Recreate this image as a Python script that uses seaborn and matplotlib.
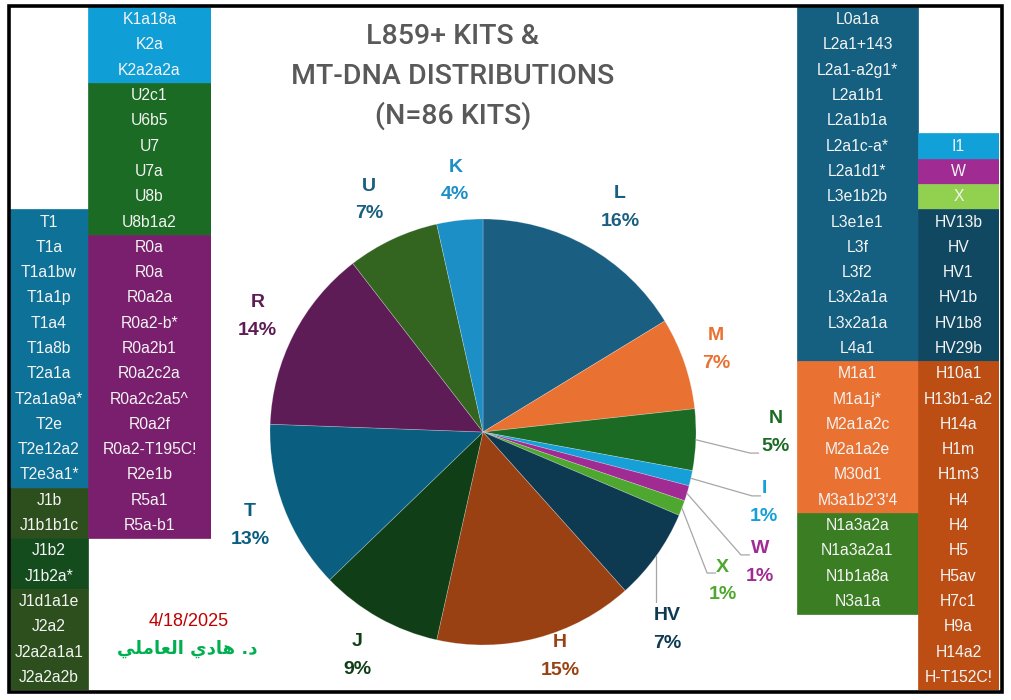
import numpy as np
import matplotlib.pyplot as plt
import seaborn as sns
from matplotlib.patches import Rectangle

sns.set_theme(style="white")
plt.rcParams['font.family'] = ['Liberation Sans', 'DejaVu Sans']

# pie data: kits per mt-DNA haplogroup, clockwise from 12 o'clock
groups = ["L", "M", "N", "I", "W", "X", "HV", "H", "J", "T", "R", "U", "K"]
counts = [14, 6, 4, 1, 1, 1, 6, 13, 8, 11, 12, 6, 3]
pct_shown = [16, 7, 5, 1, 1, 1, 7, 15, 9, 13, 14, 7, 4]

# kit tables
k_kits = ["K1a18a", "K2a", "K2a2a2a"]
u_kits = ["U2c1", "U6b5", "U7", "U7a", "U8b", "U8b1a2"]
r_kits = ["R0a", "R0a", "R0a2a", "R0a2-b*", "R0a2b1", "R0a2c2a", "R0a2c2a5^",
          "R0a2f", "R0a2-T195C!", "R2e1b", "R5a1", "R5a-b1"]
t_kits = ["T1", "T1a", "T1a1bw", "T1a1p", "T1a4", "T1a8b", "T2a1a", "T2a1a9a*",
          "T2e", "T2e12a2", "T2e3a1*"]
j_kits = ["J1b", "J1b1b1c", "J1b2", "J1b2a*", "J1d1a1e", "J2a2", "J2a2a1a1", "J2a2a2b"]
l_kits = ["L0a1a", "L2a1+143", "L2a1-a2g1*", "L2a1b1", "L2a1b1a", "L2a1c-a*", "L2a1d1*",
          "L3e1b2b", "L3e1e1", "L3f", "L3f2", "L3x2a1a", "L3x2a1a", "L4a1"]
m_kits = ["M1a1", "M1a1j*", "M2a1a2c", "M2a1a2e", "M30d1", "M3a1b2'3'4"]
n_kits = ["N1a3a2a", "N1a3a2a1", "N1b1a8a", "N3a1a"]
i_kits = ["I1"]
w_kits = ["W"]
x_kits = ["X"]
hv_kits = ["HV13b", "HV", "HV1", "HV1b", "HV1b8", "HV29b"]
h_kits = ["H10a1", "H13b1-a2", "H14a", "H1m", "H1m3", "H4", "H4", "H5", "H5av",
          "H7c1", "H9a", "H14a2", "H-T152C!"]

title_lines = ["L859+ KITS &", "MT-DNA DISTRIBUTIONS", "(N=86 KITS)"]
date_text = "4/18/2025"
# "د. هادي العاملي" in shaped presentation forms, visual order
author_text = "\uFEF2\uFEE0\uFEE3\uFE8E\uFECC\uFEDF\uFE8D \uFEF1\uFEA9\uFE8E\uFEEB .\uFEA9"

# colours
pie_colors = {"L": "#1A5F81", "M": "#E97132", "N": "#1C6B25", "I": "#17A0D8",
              "W": "#A02B93", "X": "#4EA72E", "HV": "#0E3A51", "H": "#9A4113",
              "J": "#103F17", "T": "#0A5E7F", "R": "#5E1C57", "U": "#336521",
              "K": "#1D8FC7"}
label_colors = dict(pie_colors, U="#1A5E80")
table_colors = {"K": "#0F9ED5", "U": "#1B6B24", "R": "#7A1F6D", "T": "#0E7298",
                "J": "#2C4F1D", "L": "#155F80", "M": "#E97132", "N": "#3B7D23",
                "I": "#12A0D8", "W": "#A02B93", "X": "#92D050", "HV": "#104861",
                "H": "#BC4E14"}
j_shades = ["#2C4F1D", "#2C4F1D", "#154C1E", "#154C1E",
            "#2C4F1D", "#2C4F1D", "#2C4F1D", "#2C4F1D"]

W_PX, H_PX = 1011, 700
fig = plt.figure(figsize=(W_PX / 100, H_PX / 100), dpi=100)
fig.patch.set_facecolor("white")


def px_axes(x0, y0, x1, y1):
    """axes placed by pixel box (y measured from top)"""
    return fig.add_axes([x0 / W_PX, 1 - y1 / H_PX, (x1 - x0) / W_PX, (y1 - y0) / H_PX])


# ---- kit tables ----
N_ROWS = 27


def draw_table(ax, columns):
    for left, width, start, blocks in columns:
        row = start
        for grp, kits in blocks:
            cols = j_shades if grp == "J" else [table_colors[grp]] * len(kits)
            # merge equal-coloured neighbours into one bar so no seams show
            i = 0
            while i < len(kits):
                j = i
                while j + 1 < len(kits) and cols[j + 1] == cols[i]:
                    j += 1
                ax.barh(row + i, width, left=left, height=j - i + 1, align="edge",
                        color=cols[i], edgecolor=cols[i], linewidth=0.5)
                i = j + 1
            for k, kit in enumerate(kits):
                ax.text(left + width / 2, row + k + 0.5, kit, ha="center", va="center",
                        color="#F4F4F4", fontsize=11.3)
            row += len(kits)
    ax.set_ylim(N_ROWS, 0)
    ax.axis("off")


ax_left = px_axes(10, 7, 211, 690)
draw_table(ax_left, [
    (0, 78, 8, [("T", t_kits), ("J", j_kits)]),
    (78, 123, 0, [("K", k_kits), ("U", u_kits), ("R", r_kits)]),
])
ax_left.set_xlim(0, 201)

ax_right = px_axes(797, 7, 999, 690)
draw_table(ax_right, [
    (0, 121, 0, [("L", l_kits), ("M", m_kits), ("N", n_kits)]),
    (121, 81, 5, [("I", i_kits), ("W", w_kits), ("X", x_kits),
                  ("HV", hv_kits), ("H", h_kits)]),
])
ax_right.set_xlim(0, 202)

# ---- pie ----
CX, CY, R = 483, 432, 213
ax = px_axes(220, 140, 790, 695)
wedges, _ = ax.pie(counts, colors=[pie_colors[g] for g in groups], startangle=90,
                   counterclock=False, radius=1.0,
                   wedgeprops=dict(linewidth=0.5, edgecolor=(1, 1, 1, 0.3)))
ax.set_aspect("auto")
ax.set_xlim((220 - CX) / R, (790 - CX) / R)
ax.set_ylim((CY - 695) / R, (CY - 140) / R)

# label placement (radius, angle nudge) and callouts
label_r = {"L": 1.235, "M": 1.16, "K": 1.186, "U": 1.213, "R": 1.189,
           "T": 1.178, "J": 1.203, "H": 1.114}
label_nudge = {"L": -2.1, "H": 4.3, "M": 0.7, "U": 1.0, "T": 0.9}
callouts = {"N": (1.373, -0.1), "I": (1.360, -14.1), "W": (1.437, -25.2),
            "X": (1.324, -31.9), "HV": (1.267, -47.0)}
elbows = {"N": (1.254, -0.099), "I": (1.263, -0.300), "W": (1.211, -0.577),
          "X": (1.052, -0.662), "HV": (None, -0.798)}

for w, g, p in zip(wedges, groups, pct_shown):
    mid = np.deg2rad((w.theta1 + w.theta2) / 2)
    if g in callouts:
        r, ang = callouts[g]
        ang = np.deg2rad(ang)
        sx, sy = np.cos(mid), np.sin(mid)
        ex, ey = elbows[g]
        if ex is None:
            ax.plot([sx, sx], [sy, ey], color="#A6A6A6", lw=0.9)
        else:
            ax.plot([sx, ex, ex + 0.04], [sy, ey, ey], color="#A6A6A6", lw=0.9)
    else:
        r = label_r[g]
        ang = mid + np.deg2rad(label_nudge.get(g, 0))
    lx, ly = r * np.cos(ang), r * np.sin(ang)
    for txt, dy in ((g, 10), (f"{p}%", -10)):
        ax.annotate(txt, (lx, ly), xytext=(0, dy), textcoords="offset points",
                    ha="center", va="center", fontsize=14, fontweight="bold",
                    color=label_colors[g])

# ---- title and signature ----
for i, line in enumerate(title_lines):
    fig.text(453 / W_PX, 1 - (36 + 40 * i) / H_PX, line, ha="center", va="center",
             fontsize=20.5, fontweight="medium", color="#595959",
             family=["Roboto", "Liberation Sans", "DejaVu Sans"])
fig.text(189 / W_PX, 1 - 621 / H_PX, date_text, ha="center", va="center",
         fontsize=13, color="#C00000")
fig.text(187 / W_PX, 1 - 649 / H_PX, author_text, ha="center", va="center",
         fontsize=13, fontweight="bold", color="#00B050", family=["DejaVu Sans"])

# outer frame
fig.add_artist(Rectangle((8.5 / W_PX, 1 - 691.5 / H_PX), 993 / W_PX, 686 / H_PX,
                         transform=fig.transFigure, fill=False, lw=2.6,
                         edgecolor="black", zorder=10))

plt.savefig("out.png", dpi=100)
